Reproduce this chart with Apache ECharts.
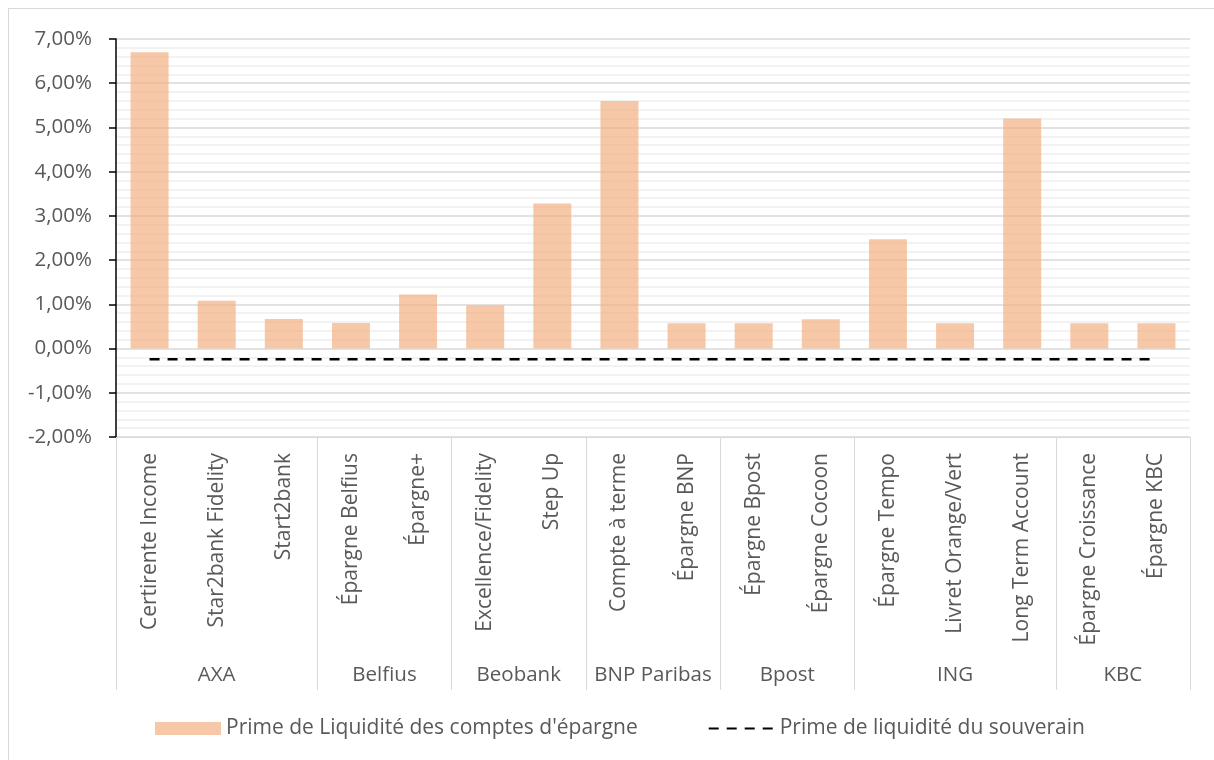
<!DOCTYPE html>
<html>
<head>
<meta charset="utf-8">
<script src="https://cdn.jsdelivr.net/npm/echarts@6/dist/echarts.min.js"></script>
<style>
  html, body { margin: 0; padding: 0; background: #ffffff; overflow: hidden; }
  #frame { position: absolute; left: 8px; top: 8px; width: 1300px; height: 900px; border: 1px solid #d9d9d9; }
  #chart { position: absolute; left: 0; top: 0; width: 1214px; height: 760px; }
</style>
</head>
<body>
<div id="frame"></div>
<div id="chart"></div>
<script>
// Banks (outer level) and how many products each one groups
const banks = ['AXA', 'Belfius', 'Beobank', 'BNP Paribas', 'Bpost', 'ING', 'KBC'];
const bankSizes = [3, 2, 2, 2, 2, 3, 2];

// Savings products (inner level)
const products = [
  'Certirente Income', 'Star2bank Fidelity', 'Start2bank',
  'Épargne Belfius', 'Épargne+',
  'Excellence/Fidelity', 'Step Up',
  'Compte à terme', 'Épargne BNP',
  'Épargne Bpost', 'Épargne Cocoon',
  'Épargne Tempo', 'Livret Orange/Vert', 'Long Term Account',
  'Épargne Croissance', 'Épargne KBC'
];

// Liquidity premium of the savings accounts (%)
const primeComptes = [6.70, 1.08, 0.67, 0.58, 1.22, 0.98, 3.28, 5.60, 0.57, 0.57, 0.66, 2.47, 0.57, 5.20, 0.57, 0.57];

// Sovereign liquidity premium (%)
const primeSouverain = [-0.24, -0.24, -0.24, -0.24, -0.24, -0.24, -0.24, -0.24, -0.24, -0.24, -0.24, -0.24, -0.24, -0.24, -0.24, -0.24];

const seriesNames = ["Prime de Liquidité des comptes d'épargne", 'Prime de liquidité du souverain'];

// Outer-level axis: half-category slots, so a bank name can sit at the
// middle of its span and separators fall on the bank boundaries.
const halfSlots = [];
const boundaries = new Set([0]);
const labelAt = {};
let pos = 0;
bankSizes.forEach((n, i) => {
  labelAt[pos + n] = banks[i];
  pos += 2 * n;
  boundaries.add(pos);
});
for (let i = 0; i <= pos; i++) halfSlots.push(labelAt[i] || '');

const textColor = '#595959';
const fontFamily = '"Open Sans", "Noto Sans", sans-serif';

const chart = echarts.init(document.getElementById('chart'), null, { renderer: 'canvas' });
chart.setOption({
  animation: false,
  backgroundColor: 'transparent',
  textStyle: { fontFamily: fontFamily },
  grid: { left: 116, right: 24, top: 39, bottom: 323, containLabel: false },
  legend: {
    left: 155,
    top: 718,
    padding: 0,
    itemWidth: 66,
    itemHeight: 13,
    itemGap: 70,
    textStyle: { color: textColor, fontSize: 21, fontFamily: fontFamily },
    data: [
      { name: seriesNames[0], icon: 'rect' },
      { name: seriesNames[1], itemStyle: { opacity: 0 } }
    ]
  },
  xAxis: [
    {
      type: 'category',
      data: products,
      position: 'bottom',
      axisLine: { onZero: false, lineStyle: { color: '#d9d9d9', width: 1 } },
      axisTick: { show: false },
      axisLabel: {
        rotate: 90,
        interval: 0,
        margin: 16,
        color: textColor,
        fontSize: 21,
        fontFamily: fontFamily
      },
      splitLine: { show: false }
    },
    {
      type: 'category',
      data: halfSlots,
      position: 'bottom',
      boundaryGap: false,
      axisLine: { show: false, onZero: false },
      axisTick: {
        show: true,
        length: 253,
        interval: (index) => boundaries.has(index),
        lineStyle: { color: '#d9d9d9', width: 1 }
      },
      axisLabel: {
        interval: 0,
        margin: 228,
        color: textColor,
        fontSize: 20.5,
        fontFamily: fontFamily
      },
      splitLine: { show: false }
    }
  ],
  yAxis: {
    type: 'value',
    min: -2,
    max: 7,
    interval: 1,
    axisLine: { show: true, lineStyle: { color: '#000000', width: 1.5 } },
    axisTick: { show: true, length: 7, lineStyle: { color: '#000000', width: 1.5 } },
    axisLabel: {
      margin: 24,
      color: textColor,
      fontSize: 20.5,
      fontFamily: fontFamily,
      formatter: (v) => v.toFixed(2).replace('.', ',') + '%'
    },
    splitLine: { show: true, lineStyle: { color: '#d9d9d9', width: 1.5 } },
    minorTick: { show: false, splitNumber: 5 },
    minorSplitLine: { show: true, lineStyle: { color: '#eeeeee', width: 1.5 } }
  },
  series: [
    {
      name: seriesNames[0],
      type: 'bar',
      xAxisIndex: 0,
      data: primeComptes,
      barWidth: 38,
      itemStyle: { color: 'rgba(244, 177, 131, 0.7)' }
    },
    {
      name: seriesNames[1],
      type: 'line',
      xAxisIndex: 0,
      data: primeSouverain,
      symbol: 'none',
      itemStyle: { color: '#000000' },
      lineStyle: { color: '#000000', width: 2.5, type: [10, 8] },
      z: 5
    }
  ]
});
</script>
</body>
</html>
